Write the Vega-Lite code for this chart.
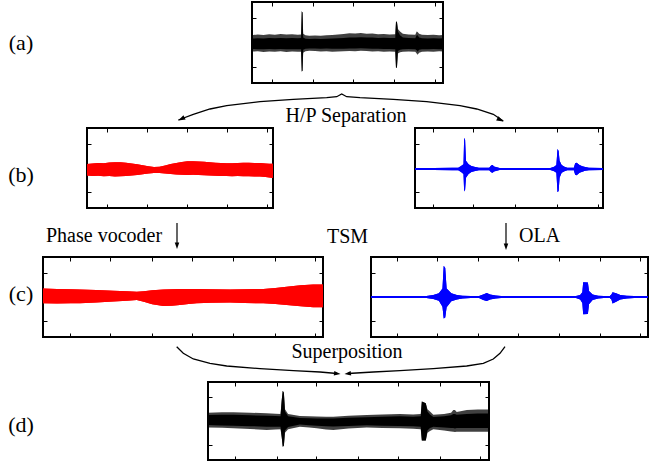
{
  "$schema": "https://vega.github.io/schema/vega-lite/v6.json",
  "padding": {"top": 0, "left": 0, "right": 0, "bottom": 0},
  "background": "white",
  "spacing": 0,
  "bounds": "full",
  "config": {
    "view": {"stroke": null},
    "axis": {"labels": false, "domain": false, "grid": false, "ticks": true, "tickSize": -4, "tickColor": "#000", "tickWidth": 1},
    "text": {"font": "Liberation Serif", "fontSize": 20, "color": "#000"}
  },
  "datasets": {
    "a": [
      {"t":0,"hi":0.30,"lo":-0.37,"chi":0.16,"clo":-0.26},
      {"t":0.03,"hi":0.33,"lo":-0.36,"chi":0.17,"clo":-0.27},
      {"t":0.06,"hi":0.31,"lo":-0.39,"chi":0.16,"clo":-0.27},
      {"t":0.09,"hi":0.34,"lo":-0.37,"chi":0.18,"clo":-0.26},
      {"t":0.12,"hi":0.32,"lo":-0.38,"chi":0.17,"clo":-0.27},
      {"t":0.15,"hi":0.35,"lo":-0.36,"chi":0.18,"clo":-0.26},
      {"t":0.18,"hi":0.33,"lo":-0.39,"chi":0.17,"clo":-0.28},
      {"t":0.21,"hi":0.34,"lo":-0.37,"chi":0.18,"clo":-0.27},
      {"t":0.24,"hi":0.32,"lo":-0.38,"chi":0.17,"clo":-0.27},
      {"t":0.257,"hi":0.33,"lo":-0.38,"chi":0.18,"clo":-0.28},
      {"t":0.2605,"hi":1.27,"lo":-1.18,"chi":1.27,"clo":-1.18},
      {"t":0.2645,"hi":1.22,"lo":-1.15,"chi":1.22,"clo":-1.15},
      {"t":0.268,"hi":0.36,"lo":-0.42,"chi":0.2,"clo":-0.3},
      {"t":0.28,"hi":0.3,"lo":-0.36,"chi":0.15,"clo":-0.25},
      {"t":0.30,"hi":0.28,"lo":-0.34,"chi":0.14,"clo":-0.24},
      {"t":0.33,"hi":0.29,"lo":-0.35,"chi":0.15,"clo":-0.24},
      {"t":0.36,"hi":0.27,"lo":-0.37,"chi":0.14,"clo":-0.25},
      {"t":0.39,"hi":0.30,"lo":-0.36,"chi":0.15,"clo":-0.24},
      {"t":0.42,"hi":0.31,"lo":-0.38,"chi":0.16,"clo":-0.25},
      {"t":0.45,"hi":0.33,"lo":-0.37,"chi":0.17,"clo":-0.25},
      {"t":0.48,"hi":0.35,"lo":-0.36,"chi":0.18,"clo":-0.25},
      {"t":0.51,"hi":0.38,"lo":-0.35,"chi":0.2,"clo":-0.24},
      {"t":0.54,"hi":0.37,"lo":-0.36,"chi":0.2,"clo":-0.24},
      {"t":0.57,"hi":0.39,"lo":-0.34,"chi":0.21,"clo":-0.23},
      {"t":0.60,"hi":0.36,"lo":-0.35,"chi":0.2,"clo":-0.24},
      {"t":0.63,"hi":0.37,"lo":-0.37,"chi":0.2,"clo":-0.25},
      {"t":0.66,"hi":0.34,"lo":-0.36,"chi":0.18,"clo":-0.25},
      {"t":0.69,"hi":0.35,"lo":-0.38,"chi":0.19,"clo":-0.26},
      {"t":0.72,"hi":0.33,"lo":-0.37,"chi":0.18,"clo":-0.26},
      {"t":0.75,"hi":0.34,"lo":-0.38,"chi":0.18,"clo":-0.27},
      {"t":0.754,"hi":0.86,"lo":-1.05,"chi":0.86,"clo":-1.05},
      {"t":0.759,"hi":0.84,"lo":-1.0,"chi":0.84,"clo":-1.0},
      {"t":0.764,"hi":0.55,"lo":-0.45,"chi":0.45,"clo":-0.35},
      {"t":0.775,"hi":0.45,"lo":-0.4,"chi":0.3,"clo":-0.3},
      {"t":0.79,"hi":0.36,"lo":-0.38,"chi":0.2,"clo":-0.27},
      {"t":0.82,"hi":0.33,"lo":-0.37,"chi":0.18,"clo":-0.26},
      {"t":0.855,"hi":0.32,"lo":-0.38,"chi":0.17,"clo":-0.27},
      {"t":0.862,"hi":0.45,"lo":-0.45,"chi":0.3,"clo":-0.32},
      {"t":0.867,"hi":0.43,"lo":-0.5,"chi":0.3,"clo":-0.38},
      {"t":0.875,"hi":0.36,"lo":-0.42,"chi":0.2,"clo":-0.3},
      {"t":0.89,"hi":0.32,"lo":-0.38,"chi":0.17,"clo":-0.27},
      {"t":0.92,"hi":0.31,"lo":-0.37,"chi":0.16,"clo":-0.27},
      {"t":0.95,"hi":0.32,"lo":-0.38,"chi":0.17,"clo":-0.26},
      {"t":0.98,"hi":0.30,"lo":-0.36,"chi":0.16,"clo":-0.27},
      {"t":1.0,"hi":0.31,"lo":-0.37,"chi":0.17,"clo":-0.27}
    ],
    "bl": [
      {"t":0,"hi":0.17,"lo":-0.31},{"t":0.03,"hi":0.19,"lo":-0.33},{"t":0.06,"hi":0.21,"lo":-0.32},
      {"t":0.09,"hi":0.20,"lo":-0.34},{"t":0.12,"hi":0.23,"lo":-0.33},{"t":0.15,"hi":0.24,"lo":-0.35},
      {"t":0.18,"hi":0.24,"lo":-0.34},{"t":0.21,"hi":0.22,"lo":-0.33},{"t":0.24,"hi":0.19,"lo":-0.31},
      {"t":0.27,"hi":0.15,"lo":-0.29},{"t":0.30,"hi":0.11,"lo":-0.26},{"t":0.33,"hi":0.07,"lo":-0.23},
      {"t":0.36,"hi":0.04,"lo":-0.21},{"t":0.39,"hi":0.05,"lo":-0.21},{"t":0.42,"hi":0.10,"lo":-0.23},
      {"t":0.45,"hi":0.16,"lo":-0.25},{"t":0.48,"hi":0.21,"lo":-0.27},{"t":0.51,"hi":0.25,"lo":-0.28},
      {"t":0.54,"hi":0.28,"lo":-0.29},{"t":0.57,"hi":0.28,"lo":-0.28},{"t":0.60,"hi":0.27,"lo":-0.29},
      {"t":0.63,"hi":0.26,"lo":-0.30},{"t":0.66,"hi":0.24,"lo":-0.31},{"t":0.69,"hi":0.22,"lo":-0.32},
      {"t":0.72,"hi":0.21,"lo":-0.33},{"t":0.75,"hi":0.20,"lo":-0.33},{"t":0.78,"hi":0.20,"lo":-0.34},
      {"t":0.81,"hi":0.21,"lo":-0.33},{"t":0.84,"hi":0.22,"lo":-0.34},{"t":0.87,"hi":0.22,"lo":-0.34},
      {"t":0.90,"hi":0.21,"lo":-0.35},{"t":0.93,"hi":0.21,"lo":-0.35},{"t":0.96,"hi":0.19,"lo":-0.37},
      {"t":0.98,"hi":0.18,"lo":-0.39},{"t":1.0,"hi":0.18,"lo":-0.41}
    ],
    "br": [
      {"t":0,"hi":0,"lo":-0.08},{"t":0.1,"hi":0,"lo":-0.08},{"t":0.2,"hi":0.01,"lo":-0.09},
      {"t":0.23,"hi":0.01,"lo":-0.09},{"t":0.245,"hi":0.08,"lo":-0.16},{"t":0.258,"hi":0.15,"lo":-0.25},
      {"t":0.2615,"hi":1.25,"lo":-0.97},{"t":0.2665,"hi":1.15,"lo":-0.9},{"t":0.271,"hi":0.3,"lo":-0.4},
      {"t":0.285,"hi":0.15,"lo":-0.25},{"t":0.30,"hi":0.08,"lo":-0.16},{"t":0.32,"hi":0.04,"lo":-0.12},
      {"t":0.34,"hi":0.01,"lo":-0.09},{"t":0.395,"hi":0.01,"lo":-0.09},{"t":0.405,"hi":0.1,"lo":-0.18},
      {"t":0.413,"hi":0.12,"lo":-0.2},{"t":0.42,"hi":0.06,"lo":-0.14},{"t":0.435,"hi":0.03,"lo":-0.11},
      {"t":0.45,"hi":0,"lo":-0.08},{"t":0.6,"hi":0,"lo":-0.08},{"t":0.72,"hi":0,"lo":-0.08},
      {"t":0.74,"hi":0.05,"lo":-0.13},{"t":0.752,"hi":0.12,"lo":-0.2},{"t":0.758,"hi":0.78,"lo":-1.0},
      {"t":0.764,"hi":0.7,"lo":-0.95},{"t":0.769,"hi":0.3,"lo":-0.4},{"t":0.78,"hi":0.12,"lo":-0.2},
      {"t":0.795,"hi":0.05,"lo":-0.13},{"t":0.81,"hi":0.01,"lo":-0.09},{"t":0.845,"hi":0.01,"lo":-0.09},
      {"t":0.852,"hi":0.2,"lo":-0.28},{"t":0.86,"hi":0.22,"lo":-0.3},{"t":0.875,"hi":0.12,"lo":-0.2},
      {"t":0.89,"hi":0.07,"lo":-0.15},{"t":0.905,"hi":0.04,"lo":-0.11},{"t":0.925,"hi":0.01,"lo":-0.09},
      {"t":1.0,"hi":0,"lo":-0.08}
    ],
    "cl": [
      {"t":0,"hi":0.35,"lo":-0.26},{"t":0.05,"hi":0.33,"lo":-0.27},{"t":0.1,"hi":0.32,"lo":-0.26},
      {"t":0.132,"hi":0.31,"lo":-0.26},{"t":0.19,"hi":0.29,"lo":-0.23},{"t":0.251,"hi":0.26,"lo":-0.19},
      {"t":0.3,"hi":0.24,"lo":-0.15},{"t":0.335,"hi":0.22,"lo":-0.12},{"t":0.36,"hi":0.24,"lo":-0.2},
      {"t":0.39,"hi":0.28,"lo":-0.3},{"t":0.43,"hi":0.31,"lo":-0.37},{"t":0.46,"hi":0.32,"lo":-0.36},
      {"t":0.489,"hi":0.33,"lo":-0.33},{"t":0.52,"hi":0.33,"lo":-0.29},{"t":0.549,"hi":0.33,"lo":-0.26},
      {"t":0.6,"hi":0.32,"lo":-0.24},{"t":0.668,"hi":0.31,"lo":-0.23},{"t":0.72,"hi":0.32,"lo":-0.25},
      {"t":0.787,"hi":0.33,"lo":-0.26},{"t":0.83,"hi":0.37,"lo":-0.29},{"t":0.87,"hi":0.42,"lo":-0.33},
      {"t":0.92,"hi":0.48,"lo":-0.38},{"t":0.965,"hi":0.52,"lo":-0.42},{"t":1.0,"hi":0.52,"lo":-0.42}
    ],
    "cr": [
      {"t":0,"hi":0.04,"lo":-0.04},{"t":0.2,"hi":0.04,"lo":-0.04},{"t":0.225,"hi":0.08,"lo":-0.08},
      {"t":0.245,"hi":0.15,"lo":-0.15},{"t":0.258,"hi":0.35,"lo":-0.4},{"t":0.2625,"hi":1.29,"lo":-0.89},
      {"t":0.268,"hi":1.2,"lo":-0.85},{"t":0.273,"hi":0.35,"lo":-0.42},{"t":0.29,"hi":0.15,"lo":-0.18},
      {"t":0.31,"hi":0.08,"lo":-0.1},{"t":0.33,"hi":0.05,"lo":-0.06},{"t":0.36,"hi":0.04,"lo":-0.04},
      {"t":0.39,"hi":0.04,"lo":-0.04},{"t":0.405,"hi":0.1,"lo":-0.12},{"t":0.418,"hi":0.16,"lo":-0.16},
      {"t":0.43,"hi":0.1,"lo":-0.1},{"t":0.45,"hi":0.06,"lo":-0.06},{"t":0.47,"hi":0.04,"lo":-0.04},
      {"t":0.74,"hi":0.04,"lo":-0.04},{"t":0.755,"hi":0.08,"lo":-0.1},{"t":0.763,"hi":0.2,"lo":-0.25},
      {"t":0.766,"hi":0.61,"lo":-0.71},{"t":0.783,"hi":0.6,"lo":-0.7},{"t":0.787,"hi":0.25,"lo":-0.3},
      {"t":0.80,"hi":0.1,"lo":-0.12},{"t":0.82,"hi":0.05,"lo":-0.06},{"t":0.84,"hi":0.04,"lo":-0.04},
      {"t":0.862,"hi":0.04,"lo":-0.04},{"t":0.868,"hi":0.1,"lo":-0.1},{"t":0.872,"hi":0.2,"lo":-0.27},
      {"t":0.885,"hi":0.15,"lo":-0.2},{"t":0.9,"hi":0.08,"lo":-0.1},{"t":0.923,"hi":0.05,"lo":-0.06},
      {"t":0.95,"hi":0.04,"lo":-0.04},{"t":1.0,"hi":0.04,"lo":-0.04}
    ],
    "d": [
      {"t":0,"hi":0.35,"lo":-0.27,"chi":0.25,"clo":-0.17},
      {"t":0.05,"hi":0.37,"lo":-0.29,"chi":0.26,"clo":-0.19},
      {"t":0.09,"hi":0.37,"lo":-0.31,"chi":0.26,"clo":-0.2},
      {"t":0.15,"hi":0.35,"lo":-0.34,"chi":0.24,"clo":-0.22},
      {"t":0.209,"hi":0.33,"lo":-0.38,"chi":0.22,"clo":-0.24},
      {"t":0.24,"hi":0.31,"lo":-0.36,"chi":0.21,"clo":-0.24},
      {"t":0.258,"hi":0.30,"lo":-0.35,"chi":0.2,"clo":-0.24},
      {"t":0.2625,"hi":0.9,"lo":-0.7,"chi":0.9,"clo":-0.7},
      {"t":0.266,"hi":1.28,"lo":-1.09,"chi":1.28,"clo":-1.09},
      {"t":0.27,"hi":1.2,"lo":-1.05,"chi":1.2,"clo":-1.05},
      {"t":0.274,"hi":0.5,"lo":-0.5,"chi":0.4,"clo":-0.4},
      {"t":0.285,"hi":0.3,"lo":-0.35,"chi":0.2,"clo":-0.25},
      {"t":0.327,"hi":0.21,"lo":-0.24,"chi":0.13,"clo":-0.15},
      {"t":0.36,"hi":0.2,"lo":-0.28,"chi":0.12,"clo":-0.18},
      {"t":0.387,"hi":0.19,"lo":-0.31,"chi":0.11,"clo":-0.2},
      {"t":0.42,"hi":0.18,"lo":-0.36,"chi":0.11,"clo":-0.22},
      {"t":0.446,"hi":0.18,"lo":-0.38,"chi":0.11,"clo":-0.23},
      {"t":0.5,"hi":0.22,"lo":-0.32,"chi":0.14,"clo":-0.21},
      {"t":0.565,"hi":0.25,"lo":-0.27,"chi":0.16,"clo":-0.18},
      {"t":0.62,"hi":0.28,"lo":-0.3,"chi":0.18,"clo":-0.2},
      {"t":0.683,"hi":0.3,"lo":-0.31,"chi":0.2,"clo":-0.21},
      {"t":0.73,"hi":0.28,"lo":-0.33,"chi":0.18,"clo":-0.22},
      {"t":0.757,"hi":0.3,"lo":-0.35,"chi":0.2,"clo":-0.24},
      {"t":0.761,"hi":0.82,"lo":-0.83,"chi":0.82,"clo":-0.83},
      {"t":0.775,"hi":0.75,"lo":-0.83,"chi":0.75,"clo":-0.83},
      {"t":0.781,"hi":0.5,"lo":-0.5,"chi":0.4,"clo":-0.4},
      {"t":0.79,"hi":0.4,"lo":-0.42,"chi":0.28,"clo":-0.3},
      {"t":0.802,"hi":0.26,"lo":-0.35,"chi":0.17,"clo":-0.24},
      {"t":0.84,"hi":0.3,"lo":-0.4,"chi":0.2,"clo":-0.27},
      {"t":0.865,"hi":0.35,"lo":-0.44,"chi":0.24,"clo":-0.3},
      {"t":0.873,"hi":0.47,"lo":-0.45,"chi":0.3,"clo":-0.3},
      {"t":0.879,"hi":0.47,"lo":-0.47,"chi":0.3,"clo":-0.32},
      {"t":0.885,"hi":0.38,"lo":-0.45,"chi":0.26,"clo":-0.3},
      {"t":0.921,"hi":0.47,"lo":-0.45,"chi":0.3,"clo":-0.3},
      {"t":0.96,"hi":0.49,"lo":-0.45,"chi":0.32,"clo":-0.3},
      {"t":1.0,"hi":0.49,"lo":-0.45,"chi":0.32,"clo":-0.3}
    ]
  },
  "vconcat": [
    {
      "hconcat": [
        {"width": 42, "height": 81, "data": {"values": [{"lab": "(a)"}]}, "mark": {"type": "text", "fontSize": 22}, "encoding": {"text": {"field": "lab", "type": "nominal"}}},
        {
          "width": 191, "height": 81, "view": {"stroke": "#000", "strokeWidth": 2},
          "data": {"name": "a"},
          "layer": [
            {"mark": {"type": "area", "color": "#000", "opacity": 0.75},
             "encoding": {
               "x": {"field": "t", "type": "quantitative", "title": null, "scale": {"domain": [0, 1], "nice": false, "zero": false}, "axis": {"orient": "bottom", "values": [0.103, 0.317, 0.530, 0.744, 0.958]}},
               "y": {"field": "hi", "type": "quantitative", "title": null, "scale": {"domain": [-1.65, 1.65], "nice": false}, "axis": {"orient": "left", "values": [-1, 1]}},
               "y2": {"field": "lo"}}},
            {"mark": {"type": "area", "color": "#000"},
             "encoding": {
               "x": {"field": "t", "type": "quantitative", "title": null, "scale": {"domain": [0, 1], "nice": false, "zero": false}, "axis": {"orient": "top", "values": [0.103, 0.317, 0.530, 0.744, 0.958]}},
               "y": {"field": "chi", "type": "quantitative", "title": null, "scale": {"domain": [-1.65, 1.65], "nice": false}, "axis": {"orient": "right", "values": [-1, 1]}},
               "y2": {"field": "clo"}}}
          ]
        }
      ],
      "spacing": 210, "bounds": "flush"
    },
    {
      "width": 649, "height": 41,
      "layer": [
        {"data": {"values": [
          {"x":178.3,"y":120},{"x":193.3,"y":114.3},{"x":210,"y":109},{"x":226.7,"y":105.7},{"x":260,"y":101.7},
          {"x":293.3,"y":99.3},{"x":326.7,"y":97.7},{"x":336.7,"y":96.7},{"x":341.7,"y":94},{"x":346.7,"y":96.7},
          {"x":360,"y":97.7},{"x":393.3,"y":99.3},{"x":426.7,"y":101.7},{"x":460,"y":105.7},{"x":476.7,"y":109},
          {"x":493.3,"y":114.3},{"x":503.3,"y":121}]},
         "mark": {"type": "line", "color": "#000", "strokeWidth": 1.3},
         "encoding": {
           "x": {"field": "x", "type": "quantitative", "scale": {"domain": [0, 649], "nice": false, "zero": false}, "axis": null},
           "y": {"field": "y", "type": "quantitative", "scale": {"domain": [85, 126], "nice": false, "zero": false, "reverse": true}, "axis": null}}},
        {"data": {"values": [{"x": 178.3, "y": 120.5}]},
         "mark": {"type": "point", "filled": true, "color": "#000", "opacity": 1, "size": 49, "angle": 243, "shape": "M0,0L0.7,2L-0.7,2Z"},
         "encoding": {"x": {"field": "x", "type": "quantitative"}, "y": {"field": "y", "type": "quantitative"}}},
        {"data": {"values": [{"x": 503.5, "y": 121.5}]},
         "mark": {"type": "point", "filled": true, "color": "#000", "opacity": 1, "size": 49, "angle": 117, "shape": "M0,0L0.7,2L-0.7,2Z"},
         "encoding": {"x": {"field": "x", "type": "quantitative"}, "y": {"field": "y", "type": "quantitative"}}},
        {"data": {"values": [{"x": 346, "y": 122, "txt": "H/P Separation"}]},
         "mark": {"type": "text", "align": "center", "baseline": "alphabetic"},
         "encoding": {"x": {"field": "x", "type": "quantitative"}, "y": {"field": "y", "type": "quantitative"}, "text": {"field": "txt", "type": "nominal"}}}
      ]
    },
    {
      "hconcat": [
        {"width": 42, "height": 80, "data": {"values": [{"lab": "(b)"}]}, "mark": {"type": "text", "fontSize": 22, "dy": 7}, "encoding": {"text": {"field": "lab", "type": "nominal"}}},
        {
          "hconcat": [
            {
              "width": 186, "height": 80, "view": {"stroke": "#000", "strokeWidth": 2},
              "data": {"name": "bl"},
              "layer": [
                {"mark": {"type": "area", "color": "#ff0000"},
                 "encoding": {
                   "x": {"field": "t", "type": "quantitative", "title": null, "scale": {"domain": [0, 1], "nice": false, "zero": false}, "axis": {"orient": "bottom", "values": [0.106, 0.321, 0.536, 0.751, 0.966]}},
                   "y": {"field": "hi", "type": "quantitative", "title": null, "scale": {"domain": [-1.65, 1.65], "nice": false}, "axis": {"orient": "left", "values": [-1, 1]}},
                   "y2": {"field": "lo"}}},
                {"mark": {"type": "area", "color": "#ff0000"},
                 "encoding": {
                   "x": {"field": "t", "type": "quantitative", "title": null, "scale": {"domain": [0, 1], "nice": false, "zero": false}, "axis": {"orient": "top", "values": [0.106, 0.321, 0.536, 0.751, 0.966]}},
                   "y": {"field": "hi", "type": "quantitative", "title": null, "scale": {"domain": [-1.65, 1.65], "nice": false}, "axis": {"orient": "right", "values": [-1, 1]}},
                   "y2": {"field": "lo"}}}
              ]
            },
            {
              "width": 188, "height": 80, "view": {"stroke": "#000", "strokeWidth": 2},
              "data": {"name": "br"},
              "layer": [
                {"mark": {"type": "area", "color": "#0000ff"},
                 "encoding": {
                   "x": {"field": "t", "type": "quantitative", "title": null, "scale": {"domain": [0, 1], "nice": false, "zero": false}, "axis": {"orient": "bottom", "values": [0.097, 0.310, 0.532, 0.754, 0.972]}},
                   "y": {"field": "hi", "type": "quantitative", "title": null, "scale": {"domain": [-1.65, 1.65], "nice": false}, "axis": {"orient": "left", "values": [-1, 1]}},
                   "y2": {"field": "lo"}}},
                {"mark": {"type": "area", "color": "#0000ff"},
                 "encoding": {
                   "x": {"field": "t", "type": "quantitative", "title": null, "scale": {"domain": [0, 1], "nice": false, "zero": false}, "axis": {"orient": "top", "values": [0.097, 0.310, 0.532, 0.754, 0.972]}},
                   "y": {"field": "hi", "type": "quantitative", "title": null, "scale": {"domain": [-1.65, 1.65], "nice": false}, "axis": {"orient": "right", "values": [-1, 1]}},
                   "y2": {"field": "lo"}}}
              ]
            }
          ],
          "spacing": 142, "bounds": "flush"
        }
      ],
      "spacing": 45, "bounds": "flush"
    },
    {
      "width": 649, "height": 45,
      "layer": [
        {"data": {"values": [{"x": 177, "y": 223, "y2": 246}, {"x": 506, "y": 223, "y2": 247}]},
         "mark": {"type": "rule", "color": "#000", "strokeWidth": 1.2},
         "encoding": {
           "x": {"field": "x", "type": "quantitative", "scale": {"domain": [0, 649], "nice": false, "zero": false}, "axis": null},
           "y": {"field": "y", "type": "quantitative", "scale": {"domain": [210, 255], "nice": false, "zero": false, "reverse": true}, "axis": null},
           "y2": {"field": "y2"}}},
        {"data": {"values": [{"x": 177, "y": 249}, {"x": 506, "y": 250}]},
         "mark": {"type": "point", "filled": true, "color": "#000", "opacity": 1, "size": 42, "angle": 180, "shape": "M0,0L0.7,2L-0.7,2Z"},
         "encoding": {"x": {"field": "x", "type": "quantitative"}, "y": {"field": "y", "type": "quantitative"}}},
        {"data": {"values": [{"x": 46, "y": 242, "txt": "Phase vocoder"}, {"x": 327, "y": 243, "txt": "TSM"}, {"x": 519, "y": 242, "txt": "OLA"}]},
         "mark": {"type": "text", "align": "left", "baseline": "alphabetic"},
         "encoding": {"x": {"field": "x", "type": "quantitative"}, "y": {"field": "y", "type": "quantitative"}, "text": {"field": "txt", "type": "nominal"}}}
      ]
    },
    {
      "hconcat": [
        {"width": 42, "height": 80, "data": {"values": [{"lab": "(c)"}]}, "mark": {"type": "text", "fontSize": 22, "dy": -3}, "encoding": {"text": {"field": "lab", "type": "nominal"}}},
        {
          "hconcat": [
            {
              "width": 280, "height": 80, "view": {"stroke": "#000", "strokeWidth": 2},
              "data": {"name": "cl"},
              "layer": [
                {"mark": {"type": "area", "color": "#ff0000"},
                 "encoding": {
                   "x": {"field": "t", "type": "quantitative", "title": null, "scale": {"domain": [0, 1], "nice": false, "zero": false}, "axis": {"orient": "bottom", "values": [0.096, 0.239, 0.388, 0.531, 0.679, 0.829, 0.971]}},
                   "y": {"field": "hi", "type": "quantitative", "title": null, "scale": {"domain": [-1.65, 1.65], "nice": false}, "axis": {"orient": "left", "values": [-1, 1]}},
                   "y2": {"field": "lo"}}},
                {"mark": {"type": "area", "color": "#ff0000"},
                 "encoding": {
                   "x": {"field": "t", "type": "quantitative", "title": null, "scale": {"domain": [0, 1], "nice": false, "zero": false}, "axis": {"orient": "top", "values": [0.096, 0.239, 0.388, 0.531, 0.679, 0.829, 0.971]}},
                   "y": {"field": "hi", "type": "quantitative", "title": null, "scale": {"domain": [-1.65, 1.65], "nice": false}, "axis": {"orient": "right", "values": [-1, 1]}},
                   "y2": {"field": "lo"}}}
              ]
            },
            {
              "width": 277, "height": 80, "view": {"stroke": "#000", "strokeWidth": 2},
              "data": {"name": "cr"},
              "layer": [
                {"mark": {"type": "area", "color": "#0000ff"},
                 "encoding": {
                   "x": {"field": "t", "type": "quantitative", "title": null, "scale": {"domain": [0, 1], "nice": false, "zero": false}, "axis": {"orient": "bottom", "values": [0.093, 0.239, 0.386, 0.532, 0.678, 0.825, 0.971]}},
                   "y": {"field": "hi", "type": "quantitative", "title": null, "scale": {"domain": [-1.65, 1.65], "nice": false}, "axis": {"orient": "left", "values": [-1, 1]}},
                   "y2": {"field": "lo"}}},
                {"mark": {"type": "area", "color": "#0000ff"},
                 "encoding": {
                   "x": {"field": "t", "type": "quantitative", "title": null, "scale": {"domain": [0, 1], "nice": false, "zero": false}, "axis": {"orient": "top", "values": [0.093, 0.239, 0.386, 0.532, 0.678, 0.825, 0.971]}},
                   "y": {"field": "hi", "type": "quantitative", "title": null, "scale": {"domain": [-1.65, 1.65], "nice": false}, "axis": {"orient": "right", "values": [-1, 1]}},
                   "y2": {"field": "lo"}}}
              ]
            }
          ],
          "spacing": 48, "bounds": "flush"
        }
      ],
      "spacing": 1, "bounds": "flush"
    },
    {
      "width": 649, "height": 41,
      "layer": [
        {"data": {"values": [
          {"side":"L","x":176.7,"y":346.7},{"side":"L","x":183.3,"y":353.3},{"side":"L","x":193.3,"y":359},{"side":"L","x":210,"y":363.3},
          {"side":"L","x":226.7,"y":366},{"side":"L","x":260,"y":368.7},{"side":"L","x":293.3,"y":370.7},{"side":"L","x":320,"y":372},{"side":"L","x":337,"y":373.5},
          {"side":"R","x":348,"y":373.5},{"side":"R","x":373.3,"y":372},{"side":"R","x":400,"y":370.7},{"side":"R","x":433.3,"y":368.7},
          {"side":"R","x":466.7,"y":366},{"side":"R","x":483.3,"y":363.3},{"side":"R","x":493.3,"y":359},{"side":"R","x":500,"y":353.3},{"side":"R","x":505,"y":346.7}]},
         "mark": {"type": "line", "color": "#000", "strokeWidth": 1.3},
         "encoding": {
           "x": {"field": "x", "type": "quantitative", "scale": {"domain": [0, 649], "nice": false, "zero": false}, "axis": null},
           "y": {"field": "y", "type": "quantitative", "scale": {"domain": [339, 380], "nice": false, "zero": false, "reverse": true}, "axis": null},
           "detail": {"field": "side", "type": "nominal"}}},
        {"data": {"values": [{"x": 340.5, "y": 374}]},
         "mark": {"type": "point", "filled": true, "color": "#000", "opacity": 1, "size": 42, "angle": 97, "shape": "M0,0L0.7,2L-0.7,2Z"},
         "encoding": {"x": {"field": "x", "type": "quantitative"}, "y": {"field": "y", "type": "quantitative"}}},
        {"data": {"values": [{"x": 344.5, "y": 374}]},
         "mark": {"type": "point", "filled": true, "color": "#000", "opacity": 1, "size": 42, "angle": 263, "shape": "M0,0L0.7,2L-0.7,2Z"},
         "encoding": {"x": {"field": "x", "type": "quantitative"}, "y": {"field": "y", "type": "quantitative"}}},
        {"data": {"values": [{"x": 347, "y": 358, "txt": "Superposition"}]},
         "mark": {"type": "text", "align": "center", "baseline": "alphabetic"},
         "encoding": {"x": {"field": "x", "type": "quantitative"}, "y": {"field": "y", "type": "quantitative"}, "text": {"field": "txt", "type": "nominal"}}}
      ]
    },
    {
      "hconcat": [
        {"width": 42, "height": 78, "data": {"values": [{"lab": "(d)"}]}, "mark": {"type": "text", "fontSize": 22, "dy": 4}, "encoding": {"text": {"field": "lab", "type": "nominal"}}},
        {
          "width": 281, "height": 78, "view": {"stroke": "#000", "strokeWidth": 2},
          "data": {"name": "d"},
          "layer": [
            {"mark": {"type": "area", "color": "#000", "opacity": 0.75},
             "encoding": {
               "x": {"field": "t", "type": "quantitative", "title": null, "scale": {"domain": [0, 1], "nice": false, "zero": false}, "axis": {"orient": "bottom", "values": [0.096, 0.244, 0.386, 0.535, 0.677, 0.826, 0.968]}},
               "y": {"field": "hi", "type": "quantitative", "title": null, "scale": {"domain": [-1.65, 1.65], "nice": false}, "axis": {"orient": "left", "values": [-1, 1]}},
               "y2": {"field": "lo"}}},
            {"mark": {"type": "area", "color": "#000"},
             "encoding": {
               "x": {"field": "t", "type": "quantitative", "title": null, "scale": {"domain": [0, 1], "nice": false, "zero": false}, "axis": {"orient": "top", "values": [0.096, 0.244, 0.386, 0.535, 0.677, 0.826, 0.968]}},
               "y": {"field": "chi", "type": "quantitative", "title": null, "scale": {"domain": [-1.65, 1.65], "nice": false}, "axis": {"orient": "right", "values": [-1, 1]}},
               "y2": {"field": "clo"}}}
          ]
        }
      ],
      "spacing": 166, "bounds": "flush"
    }
  ]
}
